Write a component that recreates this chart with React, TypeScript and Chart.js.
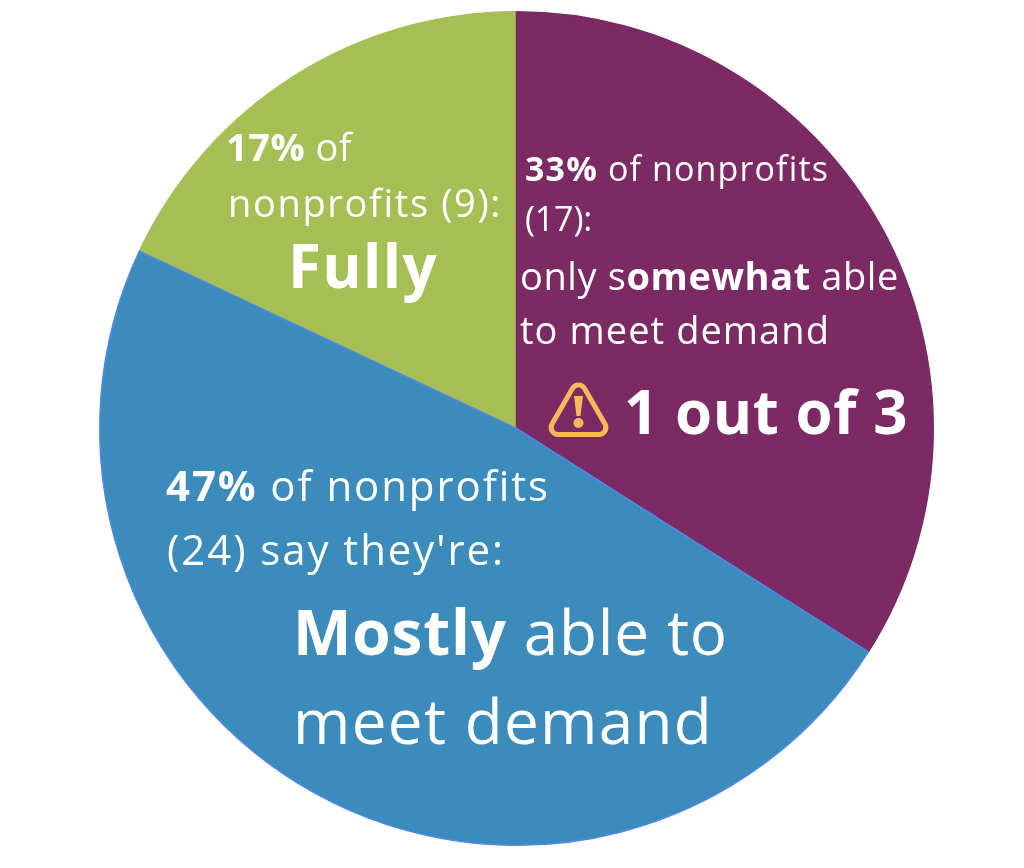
import React, { useEffect, useRef } from "react";
import { Chart, registerables } from "chart.js";

Chart.register(...registerables);

const categories = ["Fully able", "Somewhat able", "Mostly able"];
const nonprofitCounts = [9, 17, 24];
const sliceColors = ["#a6bf55", "#7b2a63", "#3b8bbb"];
const sliceBorders = ["#a6bf55", "#7b2a63", "#5289e6"];

type Run = { t: string; b?: boolean };
type Line = { x: number; y: number; size: number; w: number; runs: Run[] };

const textLines: Line[] = [
  { x: 226, y: 161, size: 38, w: 126, runs: [{ t: "17%", b: true }, { t: " of" }] },
  { x: 228, y: 217, size: 38, w: 274, runs: [{ t: "nonprofits (9):" }] },
  { x: 288, y: 288, size: 60, w: 150, runs: [{ t: "Fully", b: true }] },
  { x: 525, y: 181, size: 34, w: 304, runs: [{ t: "33%", b: true }, { t: " of nonprofits" }] },
  { x: 525, y: 231, size: 34, w: 67, runs: [{ t: "(17):" }] },
  { x: 520, y: 290, size: 38, w: 379, runs: [{ t: "only s" }, { t: "omewhat", b: true }, { t: " able" }] },
  { x: 520, y: 344, size: 38, w: 310, runs: [{ t: "to meet demand" }] },
  { x: 624, y: 434, size: 60, w: 284, runs: [{ t: "1 out of 3", b: true }] },
  { x: 166, y: 501, size: 42, w: 384, runs: [{ t: "47%", b: true }, { t: " of nonprofits" }] },
  { x: 167, y: 565, size: 42, w: 338, runs: [{ t: "(24) say they're:" }] },
  { x: 293, y: 655, size: 62, w: 435, runs: [{ t: "Mostly", b: true }, { t: " able to" }] },
  { x: 293, y: 744, size: 62, w: 420, runs: [{ t: "meet demand" }] },
];

const labelPlugin = {
  id: "labels",
  afterDraw(chart: any) {
    const c = chart.ctx;
    c.save();
    c.fillStyle = "#ffffff";
    c.textBaseline = "alphabetic";
    c.textAlign = "left";
    for (const line of textLines) {
      c.letterSpacing = "0px";
      let natural = 0;
      let chars = 0;
      for (const r of line.runs) {
        c.font = `${r.b ? 700 : 400} ${line.size}px "Open Sans"`;
        natural += c.measureText(r.t).width;
        chars += r.t.length;
      }
      c.letterSpacing = `${(line.w - natural) / chars}px`;
      let x = line.x;
      for (const r of line.runs) {
        c.font = `${r.b ? 700 : 400} ${line.size}px "Open Sans"`;
        c.fillText(r.t, x, line.y);
        x += c.measureText(r.t).width;
      }
    }
    c.letterSpacing = "0px";
    // warning triangle
    c.strokeStyle = "#f6b85a";
    c.fillStyle = "#f6b85a";
    c.lineWidth = 5;
    c.lineJoin = "round";
    c.beginPath();
    c.moveTo(578.5, 434.5);
    c.arcTo(611, 434.5, 578.5, 378, 7);
    c.arcTo(578.5, 378, 546, 434.5, 7);
    c.arcTo(546, 434.5, 578.5, 434.5, 7);
    c.closePath();
    c.stroke();
    c.beginPath();
    c.moveTo(574, 396);
    c.lineTo(583, 396);
    c.lineTo(580.5, 416);
    c.lineTo(576.5, 416);
    c.closePath();
    c.fill();
    c.beginPath();
    c.arc(578.5, 423, 5, 0, Math.PI * 2);
    c.fill();
    c.restore();
  },
};

export default function App() {
  const ref = useRef<HTMLCanvasElement>(null);
  useEffect(() => {
    document.body.style.margin = "0";
    document.body.style.background = "#ffffff";
    const chart = new Chart(ref.current!, {
      type: "pie",
      data: {
        labels: categories,
        datasets: [
          {
            data: nonprofitCounts,
            backgroundColor: sliceColors,
            borderColor: sliceBorders,
            borderWidth: 1.5,
          },
        ],
      },
      options: {
        responsive: false,
        animation: false,
        rotation: -64.8,
        layout: { padding: { left: 99, right: 90, top: 11, bottom: 22 } },
        plugins: { legend: { display: false }, tooltip: { enabled: false } },
      },
      plugins: [labelPlugin],
    });
    return () => chart.destroy();
  }, []);
  return <canvas ref={ref} width={1024} height={868} style={{ display: "block" }} />;
}
